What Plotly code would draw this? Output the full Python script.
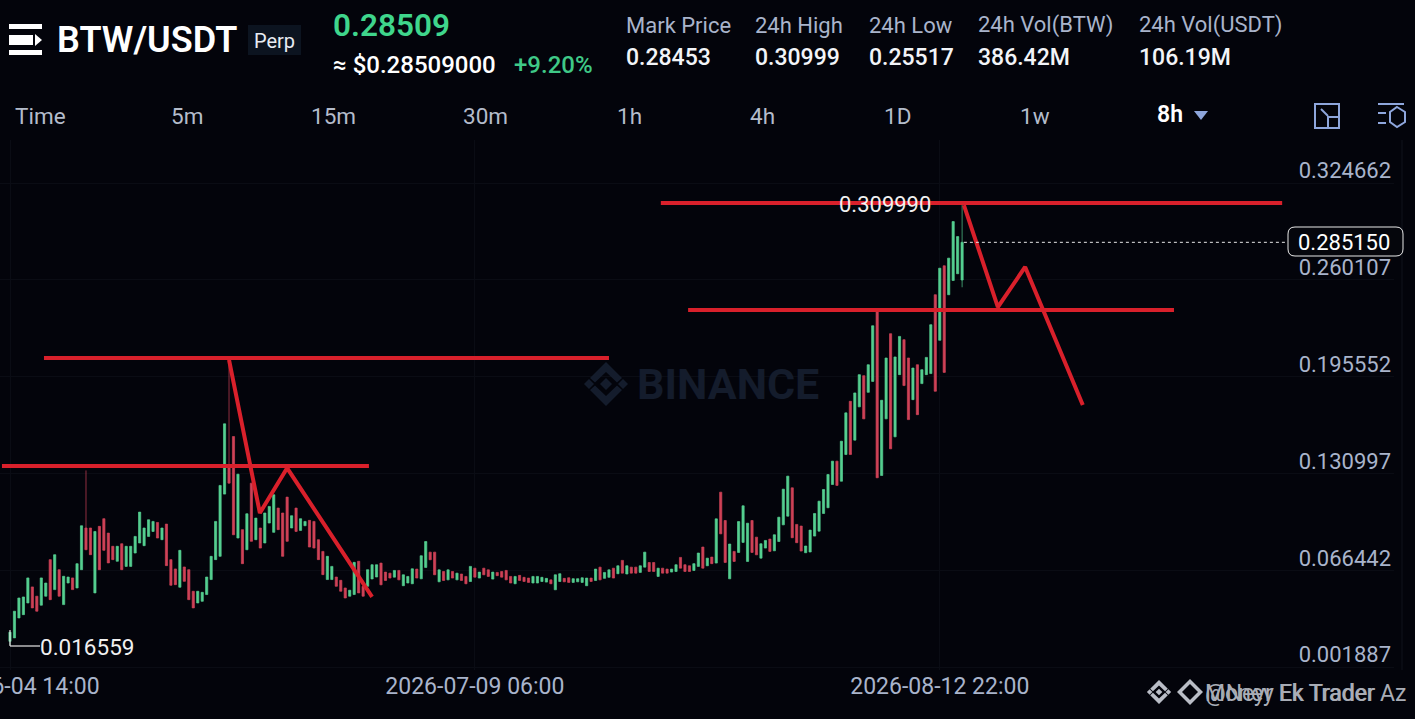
# -*- coding: utf-8 -*-
"""BTW/USDT 8h 合约K线截图复刻 (手绘红线 + 顶部行情栏)"""
import pandas as pd
import plotly.graph_objects as go

W, H = 1415, 719

# 价格读数: 每根K线的开盘/收盘, 最高最低默认取实体两端
candle_open = [
    .0190, .0213, .0346, .0368, .0446, .0553, .0491, .0431, .0491, .0735,
    .0535, .0668, .0435, .0579, .0613, .0546, .0668, .0946, .0946, .0513,
    .0957, .1008, .0912, .0824, .0724, .0841, .0690, .0690, .0779, .0846,
    .0828, .0890, .0923, .0983, .0868, .0972, .0735, .0673, .0551, .0686,
    .0668, .0524, .0446, .0457, .0502, .0602, .0735, .0757, .1172, .1368,
    .1556, .0879, .0935, .0801, .1245, .0868, .0946, .0846, .0979, .0917,
    .1079, .1046, .1152, .0946, .1079, .0930, .0961, .0997, .0990, .0868,
    .0790, .0602, .0602, .0619, .0597, .0546, .0491, .0502, .0724, .0557,
    .0557, .0606, .0619, .0712, .0652, .0645, .0618, .0663, .0561, .0579,
    .0574, .0672, .0607, .0683, .0785, .0785, .0587, .0656, .0600, .0656,
    .0600, .0639, .0623, .0589, .0678, .0612, .0678, .0667, .0605, .0650,
    .0656, .0663, .0623, .0574, .0630, .0617, .0612, .0579, .0579, .0589,
    .0585, .0600, .0534, .0589, .0610, .0614, .0583, .0587, .0583, .0561,
    .0612, .0596, .0685, .0610, .0617, .0678, .0641, .0730, .0639, .0685,
    .0685, .0650, .0685, .0716, .0716, .0623, .0678, .0672, .0652, .0656,
    .0750, .0701, .0694, .0663, .0690, .0819, .0694, .0752, .0712, .1185,
    .0996, .0607, .0790, .0783, .0850, .0723, .0996, .0885, .0745, .0812,
    .0872, .0794, .0856, .0967, .1025, .1214, .0970, .0959, .0781, .0786,
    .0892, .0925, .1043, .1081, .1236, .1392, .1258, .1436, .1791, .1532,
    .1754, .1962, .1851, .1924, .2391, .1296, .1674, .2242, .1554, .1969,
    .2202, .2080, .1802, .2035, .1909, .1969, .1976, .2502, .2198, .2695,
    .2502, .2597, .2642, .2600,
]
candle_close = [
    .0251, .0391, .0479, .0486, .0613, .0413, .0391, .0613, .0579, .0468,
    .0768, .0491, .0624, .0619, .0535, .0708, .0961, .0801, .0768, .0923,
    .0668, .0797, .0713, .0735, .0824, .0668, .0824, .0824, .0890, .1052,
    .0946, .1001, .0990, .0879, .0946, .0695, .0564, .0568, .0797, .0590,
    .0468, .0413, .0524, .0517, .0619, .0757, .0990, .1230, .1641, .1245,
    .0901, .1305, .0708, .1041, .0857, .1012, .0812, .1046, .1090, .1168,
    .0935, .0757, .0857, .1028, .0923, .1008, .0990, .0819, .0812, .0735,
    .0635, .0757, .0690, .0557, .0524, .0479, .0531, .0717, .0513, .0491,
    .0668, .0701, .0701, .0567, .0596, .0612, .0663, .0600, .0634, .0623,
    .0674, .0612, .0761, .0856, .0734, .0634, .0667, .0596, .0667, .0612,
    .0645, .0596, .0574, .0690, .0618, .0652, .0634, .0623, .0652, .0628,
    .0618, .0600, .0579, .0623, .0596, .0589, .0583, .0623, .0623, .0617,
    .0610, .0574, .0634, .0641, .0587, .0583, .0608, .0608, .0614, .0612,
    .0589, .0672, .0600, .0650, .0667, .0612, .0694, .0645, .0694, .0645,
    .0645, .0694, .0785, .0656, .0656, .0678, .0645, .0645, .0672, .0701,
    .0678, .0656, .0656, .0708, .0779, .0678, .0745, .0708, .1007, .0907,
    .0716, .0839, .0723, .0989, .1094, .0978, .0783, .0767, .0841, .0863,
    .0790, .0901, .1018, .1205, .1292, .0881, .0848, .0792, .0826, .0932,
    .1043, .1125, .1203, .1303, .1392, .1230, .1525, .1714, .1436, .1847,
    .1969, .1674, .2035, .2295, .1281, .1798, .2080, .1474, .2087, .2224,
    .1896, .1669, .2013, .1702, .2002, .2084, .2302, .1858, .2679, .1984,
    .2746, .2990, .2890, .28515,
]
# 明显带影线的K线: 序号 -> (最高, 最低)
wick_overrides = {0: (.0251, .016559), 17: (.1330, .0801), 49: (.2067, .1245),
                  213: (.30999, .25517)}

start_time = "2026-06-04 14:00"
x_tick_bars = [0, 104, 208]
price_ticks = [0.001887, 0.066442, 0.130997, 0.195552, 0.260107, 0.324662]
last_price = 0.28515
high_label = 0.30999
low_label = 0.016559

# 手绘红线 (K线序号, 价格)
drawn_lines = [
    ([145.6, 284.6], [.3114, .3114]),
    ([213.4, 221.0, 227.1, 240.0], [.3100, .2420, .2687, .1766]),
    ([151.7, 260.4], [.2400, .2400]),
    ([7.6, 134.0], [.2080, .2080]),
    ([49.0, 55.9, 62.0, 81.0], [.2067, .1046, .1346, .0486]),
    ([-1.8, 80.3], [.1360, .1360]),
]

period_tabs = ["Time", "5m", "15m", "30m", "1h", "4h", "1D", "1w"]
period_tab_x = [15, 171, 311, 463, 617, 750, 884, 1020]
stat_names = ["Mark Price", "24h High", "24h Low", "24h Vol(BTW)", "24h Vol(USDT)"]
stat_values = ["0.28453", "0.30999", "0.25517", "386.42M", "106.19M"]
stat_x = [626, 755, 869, 978, 1139]

BG = "#03040b"
GREEN = "#55cf90"
RED = "#cf4257"
LABEL = "#a9b4cb"
ICON = "#8ea6dc"
FONT = "Roboto"


def px(x):
    return x / W


def py(y):
    return 1 - y / H


times = pd.date_range(start_time, periods=len(candle_open), freq="8h")
bars = list(range(len(candle_open)))
candle_high = [max(o, c) for o, c in zip(candle_open, candle_close)]
candle_low = [min(o, c) for o, c in zip(candle_open, candle_close)]
for k, (hi, lo) in wick_overrides.items():
    candle_high[k] = hi
    candle_low[k] = lo

fig = go.Figure()

fig.add_trace(go.Candlestick(
    x=bars, open=candle_open, high=candle_high, low=candle_low, close=candle_close,
    increasing=dict(line=dict(color=GREEN, width=0.7), fillcolor=GREEN),
    decreasing=dict(line=dict(color=RED, width=0.7), fillcolor=RED),
    whiskerwidth=0, showlegend=False,
))

for xs, ys in drawn_lines:
    fig.add_trace(go.Scatter(
        x=xs, y=ys, mode="lines", showlegend=False, hoverinfo="skip",
        line=dict(color="#d9202b", width=4),
    ))

fig.update_layout(
    width=W, height=H,
    autosize=False,
    paper_bgcolor=BG, plot_bgcolor=BG,
    margin=dict(l=0, r=0, t=0, b=0, autoexpand=False),
    font=dict(family=FONT, color=LABEL),
    showlegend=False,
)

fig.update_xaxes(
    domain=[0, px(1394)],
    range=[-2.237, 309.62],
    rangeslider_visible=False,
    tickmode="array", tickvals=x_tick_bars,
    ticktext=[times[k].strftime("%Y-%m-%d %H:%M") for k in x_tick_bars],
    tickfont=dict(size=23, color=LABEL, family=FONT),
    ticklabeloverflow="allow",
    ticks="", showgrid=True, gridcolor="#0a0c14", gridwidth=1,
    showline=False, zeroline=False,
)
fig.update_yaxes(
    domain=[py(670), py(140)],
    range=[-0.000116, 0.3534],
    side="right",
    tickmode="array", tickvals=price_ticks,
    ticktext=[f"{v:.6f}" for v in price_ticks],
    ticklabelposition="inside top",
    ticklabelshift=3,
    tickfont=dict(size=22, color=LABEL, family=FONT),
    ticks="", showgrid=True, gridcolor="#0a0c14", gridwidth=1,
    showline=False, zeroline=False,
)


def text(x, y, s, size, color="#ffffff", weight=400, anchor="left"):
    fig.add_annotation(
        xref="paper", yref="paper", x=px(x), y=py(y), text=s, showarrow=False,
        xanchor=anchor, yanchor="middle", xshift=-2, align="left",
        font=dict(size=size, color=color, family=FONT, weight=weight),
    )


def rect(x0, y0, x1, y1, fill=None, line=None, lw=2):
    fig.add_shape(
        type="rect", xref="paper", yref="paper",
        x0=px(x0), x1=px(x1), y0=py(y0), y1=py(y1),
        fillcolor=fill if fill else "rgba(0,0,0,0)",
        line=dict(color=line if line else "rgba(0,0,0,0)", width=lw if line else 0),
    )


def pline(x0, y0, x1, y1, color="#ffffff", lw=1.5):
    fig.add_shape(
        type="line", xref="paper", yref="paper",
        x0=px(x0), x1=px(x1), y0=py(y0), y1=py(y1), line=dict(color=color, width=lw),
    )


def poly(points, color):
    d = " ".join(f"{'M' if n == 0 else 'L'} {px(x)} {py(y)}" for n, (x, y) in enumerate(points))
    fig.add_shape(type="path", xref="paper", yref="paper", fillcolor=color, line_width=0,
                  path=d + " Z")


def logo(cx, cy, s, color):
    # 币安图形: 中心和两侧菱形, 上下折角
    for dx, r in [(0, 6), (-17, 5), (17, 5)]:
        poly([(cx + dx * s, cy - r * s), (cx + (dx + r) * s, cy),
              (cx + dx * s, cy + r * s), (cx + (dx - r) * s, cy)], color)
    for sign in (-1, 1):
        poly([(cx, cy + sign * 22 * s), (cx + 16 * s, cy + sign * 6 * s),
              (cx + 11 * s, cy + sign * 1.5 * s), (cx, cy + sign * 12 * s),
              (cx - 11 * s, cy + sign * 1.5 * s), (cx - 16 * s, cy + sign * 6 * s)], color)


# 顶部行情栏
rect(9, 24, 42, 29, fill="#ffffff")
rect(9, 35, 33, 45, fill="#ffffff")
rect(9, 50, 42, 55, fill="#ffffff")
poly([(35, 34), (42, 40), (35, 46)], "#ffffff")
text(57, 40, "BTW/USDT", 36, weight=600)
rect(248, 25, 301, 55, fill="#0c1420")
text(254, 41, "Perp", 20, color="#e8ecf3")
text(333, 25, "0.28509", 31.5, color="#3fd68c", weight=600)
text(333, 65, "≈ $0.28509000", 24, weight=500)
text(514, 65, "+9.20%", 24, color="#3fc987", weight=500)
for x, name, val in zip(stat_x, stat_names, stat_values):
    text(x, 25, name, 22, color=LABEL)
    text(x, 57, val, 23, color="#f2f4f8", weight=500)

# 周期栏
for x, name in zip(period_tab_x, period_tabs):
    text(x, 116, name, 22.5, color="#b4bccb")
text(1157, 115, "8h", 23, weight=600)
poly([(1194, 111), (1208, 111), (1201, 120)], ICON)
# 右上角两个图标
rect(1315, 104, 1339, 128, line=ICON, lw=2)
rect(1328, 117, 1339, 128, fill=BG, line=ICON, lw=2)
pline(1321, 109, 1328, 116, color=ICON, lw=2)
pline(1378, 104, 1404, 104, color=ICON, lw=2)
pline(1378, 113, 1386, 113, color=ICON, lw=2)
pline(1378, 123, 1386, 123, color=ICON, lw=2)
fig.add_shape(type="path", xref="paper", yref="paper", line=dict(color=ICON, width=2),
              path=(f"M {px(1397)} {py(107)} L {px(1405)} {py(112)} L {px(1405)} {py(122)} "
                    f"L {px(1397)} {py(127)} L {px(1390)} {py(122)} L {px(1390)} {py(112)} Z"))

# BINANCE 水印
logo(606, 384, 1.0, "#141c2c")
text(637, 384, "BINANCE", 43, color="#141c2c", weight=700)

# 右侧轴线
pline(1402, 140, 1402, 670, color="#10131c", lw=1)

# 高低点标注
text(839, 205, f"{high_label:.6f}", 22, color="#f0f0f0")
text(40, 647, f"{low_label:.6f}", 22.5, color="#f0f0f0")
pline(10, 630, 10, 646, color="#e8e8e8", lw=1.2)
pline(10, 646, 40, 646, color="#e8e8e8", lw=1.2)

# 当前价虚线和标签
fig.add_shape(type="line", xref="x", yref="y", x0=213.4, x1=285.8, y0=last_price, y1=last_price,
              line=dict(color="#e8e8e8", width=1, dash="3px,3px"))
fig.add_shape(
    type="path", xref="paper", yref="paper", fillcolor="#05060c",
    line=dict(color="#e8e8e8", width=1),
    path=(f"M {px(1295)} {py(227)} L {px(1396)} {py(227)} Q {px(1403)} {py(227)} {px(1403)} {py(234)} "
          f"L {px(1403)} {py(249)} Q {px(1403)} {py(256)} {px(1396)} {py(256)} "
          f"L {px(1295)} {py(256)} Q {px(1288)} {py(256)} {px(1288)} {py(249)} "
          f"L {px(1288)} {py(234)} Q {px(1288)} {py(227)} {px(1295)} {py(227)} Z"),
)
text(1298, 242, f"{last_price:.6f}", 22)

# 右下角重叠水印
logo(1159, 692, 0.55, "#b9bdc6")
poly([(1190, 679), (1203, 692), (1190, 705), (1177, 692)], "#b9bdc6")
poly([(1190, 684), (1198, 692), (1190, 700), (1182, 692)], BG)
text(1205, 693, "@Neyr Ek Trader Az", 23, color="#a9adb6")
text(1205, 693, "Money Ek Trader", 23, color="#a9adb6")

fig.write_html("out.html", config={"displayModeBar": False},
               post_script="document.body.style.margin='0';")
